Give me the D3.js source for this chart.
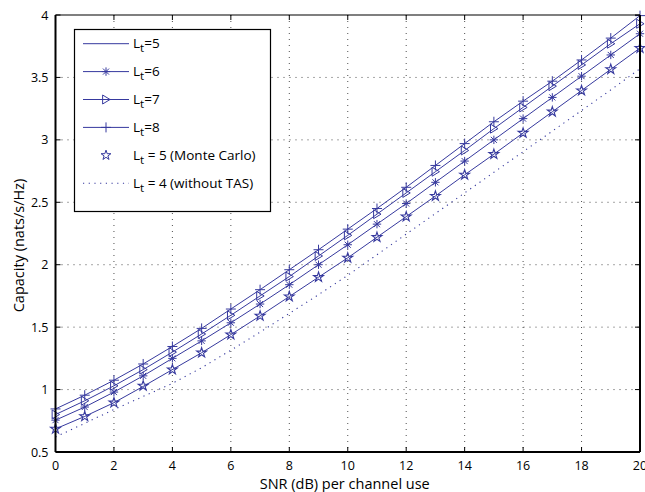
<!DOCTYPE html>
<html>
<head>
<meta charset="utf-8">
<script src="https://cdn.jsdelivr.net/npm/d3@7"></script>
<style>
  body { margin: 0; background: #fff; }
  text { font-family: "Open Sans", "DejaVu Sans", sans-serif; fill: #000; }
</style>
</head>
<body>
<div id="chart"></div>
<script>
// SNR values (dB)
var snr = [0, 1, 2, 3, 4, 5, 6, 7, 8, 9, 10, 11, 12, 13, 14, 15, 16, 17, 18, 19, 20];

// capacity curves (nats/s/Hz)
var lt5 = [0.685, 0.785, 0.895, 1.025, 1.16, 1.295, 1.44, 1.59, 1.745, 1.9, 2.055, 2.22, 2.385, 2.55, 2.72, 2.885, 3.055, 3.225, 3.395, 3.565, 3.735];
var lt6 = [0.755, 0.86, 0.98, 1.11, 1.25, 1.39, 1.535, 1.685, 1.84, 2.0, 2.16, 2.325, 2.49, 2.66, 2.83, 3.0, 3.17, 3.34, 3.51, 3.68, 3.85];
var lt7 = [0.80, 0.91, 1.03, 1.16, 1.30, 1.445, 1.595, 1.75, 1.905, 2.07, 2.235, 2.405, 2.575, 2.745, 2.915, 3.09, 3.26, 3.43, 3.6, 3.77, 3.93];
var lt8 = [0.845, 0.955, 1.075, 1.205, 1.345, 1.49, 1.645, 1.80, 1.96, 2.12, 2.285, 2.45, 2.62, 2.795, 2.97, 3.145, 3.31, 3.47, 3.64, 3.815, 3.995];
var lt5mc = [0.685, 0.785, 0.895, 1.03, 1.16, 1.295, 1.44, 1.59, 1.745, 1.9, 2.055, 2.22, 2.385, 2.55, 2.72, 2.885, 3.055, 3.225, 3.395, 3.565, 3.735];
var lt4 = [0.62, 0.73, 0.84, 0.945, 1.05, 1.175, 1.315, 1.46, 1.61, 1.76, 1.915, 2.08, 2.245, 2.41, 2.575, 2.74, 2.905, 3.07, 3.235, 3.4, 3.57];

var xTicks = [0, 2, 4, 6, 8, 10, 12, 14, 16, 18, 20];
var yTicks = [0.5, 1, 1.5, 2, 2.5, 3, 3.5, 4];

var legendLabels = ["=5", "=6", "=7", "=8", " = 5 (Monte Carlo)", " = 4 (without TAS)"];

var blue = "#36399e";
var W = 645, H = 492;
var margin = {top: 15, right: 5, bottom: 40, left: 55.5};
var width = W - margin.left - margin.right;
var height = H - margin.top - margin.bottom;

var svg = d3.select("#chart").append("svg")
    .attr("width", W)
    .attr("height", H);

var g = svg.append("g")
    .attr("transform", "translate(" + margin.left + "," + margin.top + ")");

var x = d3.scaleLinear().domain([0, 20]).range([0, width]);
var y = d3.scaleLinear().domain([0.5, 4]).range([height, 0]);

// grid
g.selectAll(".vgrid").data(xTicks.slice(1, -1)).enter().append("line")
    .attr("x1", d => x(d)).attr("x2", d => x(d))
    .attr("y1", 0).attr("y2", height)
    .attr("stroke", "#222").attr("stroke-width", 0.8)
    .attr("stroke-dasharray", "1,5");
g.selectAll(".hgrid").data(yTicks.slice(1, -1)).enter().append("line")
    .attr("x1", 0).attr("x2", width)
    .attr("y1", d => y(d)).attr("y2", d => y(d))
    .attr("stroke", "#222").attr("stroke-width", 0.8)
    .attr("stroke-dasharray", "1,5");

// marker shapes
function plusPath(s) {
    return "M" + (-s) + ",0H" + s + "M0," + (-s) + "V" + s;
}
function asteriskPath(s) {
    var d = s * 0.72;
    return plusPath(s) + "M" + (-d) + "," + (-d) + "L" + d + "," + d + "M" + (-d) + "," + d + "L" + d + "," + (-d);
}
function triPath(s) {
    return "M" + (-s * 0.75) + "," + (-s) + "L" + (s * 0.9) + ",0L" + (-s * 0.75) + "," + s + "Z";
}
var starPath = d3.symbol().type(d3.symbolStar).size(30)();

var line = d3.line().x((d, i) => x(snr[i])).y(d => y(d));

var series = [
    {vals: lt5, marker: null},
    {vals: lt6, marker: asteriskPath(4.2)},
    {vals: lt7, marker: triPath(4.5)},
    {vals: lt8, marker: plusPath(5)}
];

series.forEach(function(s) {
    g.append("path").datum(s.vals)
        .attr("d", line)
        .attr("fill", "none")
        .attr("stroke", blue)
        .attr("stroke-width", 1);
    if (s.marker) {
        g.selectAll(null).data(s.vals).enter().append("path")
            .attr("transform", (d, i) => "translate(" + x(snr[i]) + "," + y(d) + ")")
            .attr("d", s.marker)
            .attr("fill", "none")
            .attr("stroke", blue)
            .attr("stroke-width", 1);
    }
});

// Monte Carlo stars
g.selectAll(".mc").data(lt5mc).enter().append("path")
    .attr("transform", (d, i) => "translate(" + x(snr[i]) + "," + y(d) + ")")
    .attr("d", starPath)
    .attr("fill", "none")
    .attr("stroke", blue)
    .attr("stroke-width", 1.1);

// without TAS
g.append("path").datum(lt4)
    .attr("d", line)
    .attr("fill", "none")
    .attr("stroke", blue)
    .attr("stroke-width", 1.1)
    .attr("stroke-dasharray", "1.2,4.5");

// box
g.append("line").attr("x1", 0).attr("x2", width).attr("y1", 0).attr("y2", 0)
    .attr("stroke", "#000").attr("stroke-width", 1.2);
g.append("line").attr("x1", 0).attr("x2", width).attr("y1", height).attr("y2", height)
    .attr("stroke", "#000").attr("stroke-width", 2);
g.append("line").attr("x1", 0).attr("x2", 0).attr("y1", 0).attr("y2", height)
    .attr("stroke", "#000").attr("stroke-width", 2);
g.append("line").attr("x1", width).attr("x2", width).attr("y1", 0).attr("y2", height)
    .attr("stroke", "#000").attr("stroke-width", 2);

// inward ticks
var tk = 5;
g.selectAll(".xtb").data(xTicks).enter().append("line")
    .attr("x1", d => x(d)).attr("x2", d => x(d))
    .attr("y1", height).attr("y2", height - tk)
    .attr("stroke", "#000");
g.selectAll(".xtt").data(xTicks).enter().append("line")
    .attr("x1", d => x(d)).attr("x2", d => x(d))
    .attr("y1", 0).attr("y2", tk)
    .attr("stroke", "#000");
g.selectAll(".ytl").data(yTicks).enter().append("line")
    .attr("x1", 0).attr("x2", tk)
    .attr("y1", d => y(d)).attr("y2", d => y(d))
    .attr("stroke", "#000");
g.selectAll(".ytr").data(yTicks).enter().append("line")
    .attr("x1", width).attr("x2", width - tk)
    .attr("y1", d => y(d)).attr("y2", d => y(d))
    .attr("stroke", "#000");

// tick labels
g.selectAll(".xl").data(xTicks).enter().append("text")
    .attr("x", d => x(d)).attr("y", height + 18)
    .attr("text-anchor", "middle")
    .style("font-size", "12.5px")
    .text(d => d);
g.selectAll(".yl").data(yTicks).enter().append("text")
    .attr("x", -7).attr("y", d => y(d) + 4.5)
    .attr("text-anchor", "end")
    .style("font-size", "12.5px")
    .text(d => d);

// axis titles
svg.append("text")
    .attr("x", margin.left + width / 2 - 3).attr("y", 489)
    .attr("text-anchor", "middle")
    .style("font-size", "14.5px")
    .text("SNR (dB) per channel use");
svg.append("text")
    .attr("transform", "translate(24," + (margin.top + height / 2 + 12) + ") rotate(-90)")
    .attr("text-anchor", "middle")
    .style("font-size", "14.5px")
    .text("Capacity (nats/s/Hz)");

// legend
var leg = svg.append("g");
leg.append("rect")
    .attr("x", 74.5).attr("y", 29.5)
    .attr("width", 196).attr("height", 182)
    .attr("fill", "#fff").attr("stroke", "#000").attr("stroke-width", 1.2);

var legMarkers = [null, asteriskPath(4.2), triPath(4.5), plusPath(5), starPath, null];
legendLabels.forEach(function(lab, i) {
    var ly = 43.7 + i * 27.9;
    if (i < 4) {
        leg.append("line").attr("x1", 83).attr("x2", 129)
            .attr("y1", ly).attr("y2", ly)
            .attr("stroke", blue).attr("stroke-width", 1);
    }
    if (i === 5) {
        leg.append("line").attr("x1", 83).attr("x2", 129)
            .attr("y1", ly).attr("y2", ly)
            .attr("stroke", blue).attr("stroke-width", 1.1)
            .attr("stroke-dasharray", "1.2,4.5");
    }
    if (legMarkers[i]) {
        leg.append("path")
            .attr("transform", "translate(106," + ly + ")")
            .attr("d", legMarkers[i])
            .attr("fill", "none").attr("stroke", blue).attr("stroke-width", 1);
    }
    var t = leg.append("text")
        .attr("x", 133).attr("y", ly + 4.5)
        .style("font-size", "13.5px");
    t.append("tspan").text("L");
    t.append("tspan").attr("dy", 4).style("font-size", "11.5px").text("t");
    t.append("tspan").attr("dy", -4).text(lab);
});
</script>
</body>
</html>
